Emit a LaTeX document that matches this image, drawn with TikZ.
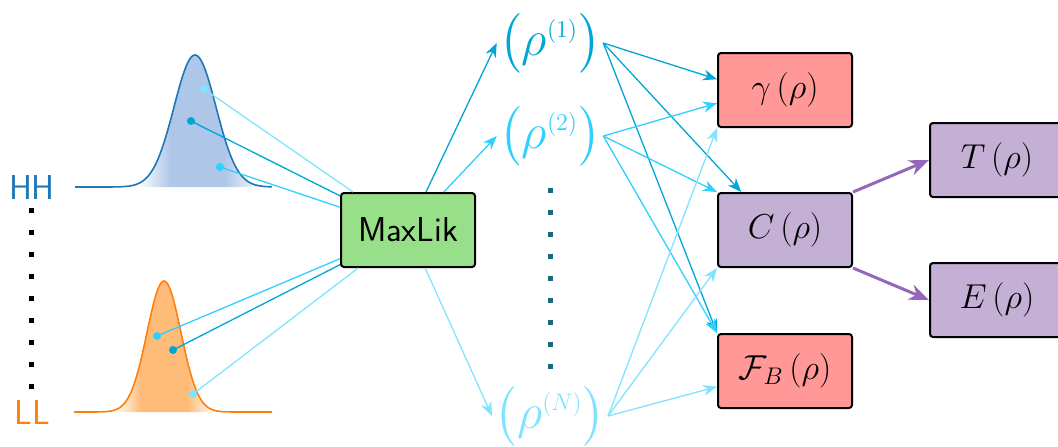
\documentclass[tikz,border=0pt]{standalone}
\usepackage{amsmath}
\usetikzlibrary{arrows.meta}

\definecolor{hhblue}{HTML}{1F77B4}
\definecolor{hhfill}{HTML}{AEC7E8}
\definecolor{llorange}{HTML}{FF7F0E}
\definecolor{llfill}{HTML}{FFBB78}
\definecolor{mlgreen}{HTML}{98DF8A}
\definecolor{qred}{HTML}{FF9896}
\definecolor{qpurple}{HTML}{C5B0D5}
\definecolor{arrowpurple}{HTML}{9467BD}
\definecolor{rhodark}{HTML}{00A6D6}
\definecolor{rhomid}{HTML}{2ED0FF}
\definecolor{rholight}{HTML}{80E3FF}
\definecolor{dotteal}{HTML}{176A82}

% fades under the two peaks
\pgfdeclarehorizontalshading{hhfade}{100bp}{color(0bp)=(white); color(25bp)=(white); color(38bp)=(hhfill); color(60bp)=(hhfill); color(75bp)=(white); color(100bp)=(white)}
\pgfdeclarehorizontalshading{llfade}{100bp}{color(0bp)=(white); color(25bp)=(white); color(38bp)=(llfill); color(61bp)=(llfill); color(75bp)=(white); color(100bp)=(white)}

\newcommand{\rhostate}[1]{$\bigl(\rho^{\text{\large$(#1)$}}\bigr)$}

\begin{document}
\begin{tikzpicture}[x=0.5pt, y=-0.5pt, >=Stealth]

    % Define styles
    \tikzset{
        box/.style={draw=black, line width=1pt, rounded corners=1.5pt, minimum width=67pt, minimum height=37pt, inner sep=0pt, font=\LARGE},
        linkdark/.style={rhodark, line width=0.65pt},
        linkmid/.style={rhomid, line width=0.65pt},
        linklight/.style={rholight, line width=0.65pt},
        arrowdark/.style={linkdark, -{Stealth[length=7pt, width=5.5pt]}},
        arrowmid/.style={linkmid, -{Stealth[length=7pt, width=5.5pt]}},
        arrowlight/.style={linklight, -{Stealth[length=7pt, width=5.5pt]}},
        purplearrow/.style={arrowpurple, line width=1.5pt, -{Stealth[length=10pt, width=8pt]}},
        dotline/.style={line width=2.5pt, dash pattern=on 2.5pt off 8.55pt},
        rhonode/.style={font=\Huge, inner sep=1pt}
    }

    \useasboundingbox (0,0) rectangle (1058,446);

    % 1. Measured peaks
    \shade[shading=hhfade] (138,187) -- plot[domain=138:262, samples=80] (\x, {187-132*exp(((\x-195)^2)/(-882))}) -- (262,187) -- cycle;
    \draw[hhblue, line width=0.8pt] plot[domain=75:272, samples=150] (\x, {187-132*exp(((\x-195)^2)/(-882))});

    \shade[shading=llfade] (115,412) -- plot[domain=115:215, samples=80] (\x, {412-131*exp(((\x-164)^2)/(-578))}) -- (215,412) -- cycle;
    \draw[llorange, line width=0.8pt] plot[domain=74:272, samples=150] (\x, {412-131*exp(((\x-164)^2)/(-578))});

    \node[hhblue, font=\LARGE\sffamily] (hhlabel) at (32,187) {HH};
    \node[llorange, font=\LARGE\sffamily] (lllabel) at (32,412) {LL};

    \coordinate (hhdots) at (31,207.5);
    \coordinate (lldots) at (31,392);
    \draw[dotline] (hhdots) -- (lldots);

    % sample points on the peaks
    \coordinate (hhA) at (204,89);
    \coordinate (hhB) at (191,121);
    \coordinate (hhC) at (220,167);
    \coordinate (llA) at (157,336);
    \coordinate (llB) at (173,350);
    \coordinate (llC) at (193,394);

    % 2. Boxes
    \node[box, fill=mlgreen, font=\LARGE\sffamily] (maxlik) at (408,230) {MaxLik};
    \node[box, fill=qred] (gamma) at (785,90) {$\gamma\left(\rho\right)$};
    \node[box, fill=qpurple] (conc) at (785,230) {$C\left(\rho\right)$};
    \node[box, fill=qred] (fid) at (785,371) {$\mathcal{F}_B\left(\rho\right)$};
    \node[box, fill=qpurple] (tangle) at (997,160) {$T\left(\rho\right)$};
    \node[box, fill=qpurple] (eof) at (997,300) {$E\left(\rho\right)$};

    % 3. Reconstructed states
    \node[rhonode, rhodark] (rho1) at (550,43) {\rhostate{1}};
    \node[rhonode, rhomid] (rho2) at (550,136) {\rhostate{2}};
    \node[rhonode, rholight] (rhoN) at (550,416) {\rhostate{N}};

    \coordinate (rhodotstop) at (550,187.5);
    \coordinate (rhodotsbot) at (550,372);
    \draw[dotline, dotteal] (rhodotstop) -- (rhodotsbot);

    % 4. Peaks into MaxLik
    \draw[linklight] (hhA) -- (maxlik);
    \draw[linkdark] (hhB) -- (maxlik);
    \draw[linkmid] (hhC) -- (maxlik);
    \draw[linkmid] (llA) -- (maxlik);
    \draw[linkdark] (llB) -- (maxlik);
    \draw[linklight] (llC) -- (maxlik);

    \fill[rholight] (hhA) circle (2pt);
    \fill[rhodark] (hhB) circle (2pt);
    \fill[rhomid] (hhC) circle (2pt);
    \fill[rhomid] (llA) circle (2pt);
    \fill[rhodark] (llB) circle (2pt);
    \fill[rholight] (llC) circle (2pt);

    % 5. MaxLik to the states
    \draw[arrowdark] (maxlik) -- (rho1.west);
    \draw[arrowmid] (maxlik) -- (rho2.west);
    \draw[arrowlight] (maxlik) -- (rhoN.west);

    % 6. States to the quantities
    \draw[arrowdark] (rho1.east) -- (gamma.171);
    \draw[arrowdark] (rho1.east) -- (conc.139);
    \draw[arrowdark] (rho1.east) -- (fid.north west);

    \draw[arrowmid] (rho2.east) -- (gamma.191);
    \draw[arrowmid] (rho2.east) -- (conc.north west);
    \draw[arrowmid] (rho2.east) -- (fid.north west);

    \draw[arrowlight] (rhoN.east) -- (gamma.south west);
    \draw[arrowlight] (rhoN.east) -- (conc.south west);
    \draw[arrowlight] (rhoN.east) -- (fid.193);

    % 7. Concurrence to tangle and EoF
    \draw[purplearrow] (conc.north east) -- (tangle.west);
    \draw[purplearrow] (conc.south east) -- (eof.west);

\end{tikzpicture}
\end{document}
